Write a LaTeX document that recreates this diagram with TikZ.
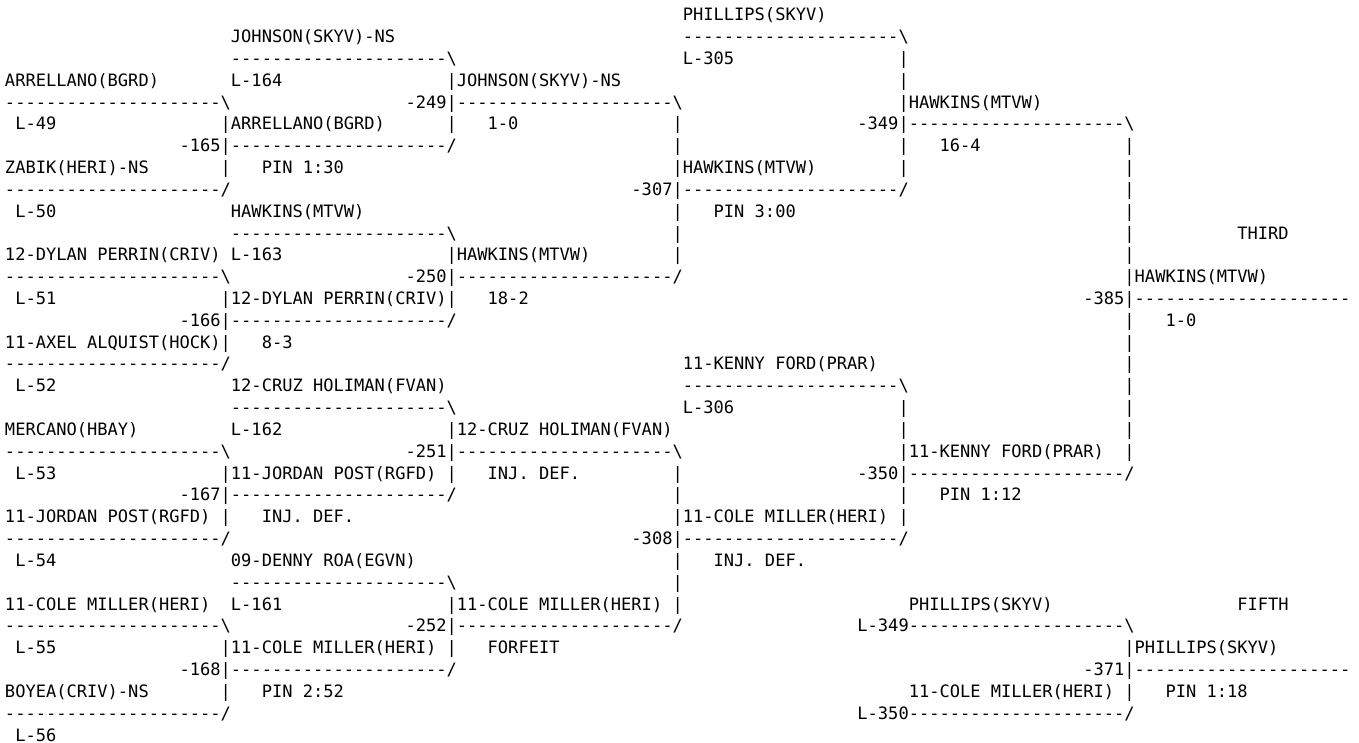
\documentclass[tikz,border=0pt]{standalone}
\usepackage{fontspec}
\setmonofont{DejaVu Sans Mono}
\newcommand\dd{---------------------}
\newcommand\bsl{\textbackslash}
\tikzset{txt/.style={anchor=base west, inner sep=0pt, outer sep=0pt,
  font=\ttfamily\fontsize{17.06}{21.83}\selectfont\frenchspacing, text=black}}
\newcommand\putseg[4]{\node[txt] (#1) at ({5+10.27*#3},{-(20.7+21.83*#2)}) {#4};}
\begin{document}
\begin{tikzpicture}[x=1pt,y=1pt]
\useasboundingbox[fill=white] (0,0) rectangle (1359,-742);
% row 0
\putseg{r0a}{0}{66}{PHILLIPS(SKYV)}
% row 1
\putseg{r1a}{1}{22}{JOHNSON(SKYV)-NS}
\putseg{r1b}{1}{66}{\dd\bsl}
% row 2
\putseg{r2a}{2}{22}{\dd\bsl}
\putseg{r2b}{2}{66}{L-305}
\putseg{r2c}{2}{87}{|}
% row 3
\putseg{r3a}{3}{0}{ARRELLANO(BGRD)}
\putseg{r3b}{3}{22}{L-164}
\putseg{r3c}{3}{43}{|JOHNSON(SKYV)-NS}
\putseg{r3d}{3}{87}{|}
% row 4
\putseg{r4a}{4}{0}{\dd\bsl}
\putseg{r4b}{4}{39}{-249|\dd\bsl}
\putseg{r4c}{4}{87}{|HAWKINS(MTVW)}
% row 5
\putseg{r5a}{5}{1}{L-49}
\putseg{r5b}{5}{21}{|ARRELLANO(BGRD)}
\putseg{r5c}{5}{43}{|}
\putseg{r5d}{5}{47}{1-0}
\putseg{r5e}{5}{65}{|}
\putseg{r5f}{5}{83}{-349|\dd\bsl}
% row 6
\putseg{r6a}{6}{17}{-165|\dd/}
\putseg{r6b}{6}{65}{|}
\putseg{r6c}{6}{87}{|}
\putseg{r6d}{6}{91}{16-4}
\putseg{r6e}{6}{109}{|}
% row 7
\putseg{r7a}{7}{0}{ZABIK(HERI)-NS}
\putseg{r7b}{7}{21}{|}
\putseg{r7c}{7}{25}{PIN 1:30}
\putseg{r7d}{7}{65}{|HAWKINS(MTVW)}
\putseg{r7e}{7}{87}{|}
\putseg{r7f}{7}{109}{|}
% row 8
\putseg{r8a}{8}{0}{\dd/}
\putseg{r8b}{8}{61}{-307|\dd/}
\putseg{r8c}{8}{109}{|}
% row 9
\putseg{r9a}{9}{1}{L-50}
\putseg{r9b}{9}{22}{HAWKINS(MTVW)}
\putseg{r9c}{9}{65}{|}
\putseg{r9d}{9}{69}{PIN 3:00}
\putseg{r9e}{9}{109}{|}
% row 10
\putseg{r10a}{10}{22}{\dd\bsl}
\putseg{r10b}{10}{65}{|}
\putseg{r10c}{10}{109}{|}
\putseg{r10d}{10}{120}{THIRD}
% row 11
\putseg{r11a}{11}{0}{12-DYLAN PERRIN(CRIV)}
\putseg{r11b}{11}{22}{L-163}
\putseg{r11c}{11}{43}{|HAWKINS(MTVW)}
\putseg{r11d}{11}{65}{|}
\putseg{r11e}{11}{109}{|}
% row 12
\putseg{r12a}{12}{0}{\dd\bsl}
\putseg{r12b}{12}{39}{-250|\dd/}
\putseg{r12c}{12}{109}{|HAWKINS(MTVW)}
% row 13
\putseg{r13a}{13}{1}{L-51}
\putseg{r13b}{13}{21}{|12-DYLAN PERRIN(CRIV)|}
\putseg{r13c}{13}{47}{18-2}
\putseg{r13d}{13}{105}{-385|\dd}
% row 14
\putseg{r14a}{14}{17}{-166|\dd/}
\putseg{r14b}{14}{109}{|}
\putseg{r14c}{14}{113}{1-0}
% row 15
\putseg{r15a}{15}{0}{11-AXEL ALQUIST(HOCK)|}
\putseg{r15b}{15}{25}{8-3}
\putseg{r15c}{15}{109}{|}
% row 16
\putseg{r16a}{16}{0}{\dd/}
\putseg{r16b}{16}{66}{11-KENNY FORD(PRAR)}
\putseg{r16c}{16}{109}{|}
% row 17
\putseg{r17a}{17}{1}{L-52}
\putseg{r17b}{17}{22}{12-CRUZ HOLIMAN(FVAN)}
\putseg{r17c}{17}{66}{\dd\bsl}
\putseg{r17d}{17}{109}{|}
% row 18
\putseg{r18a}{18}{22}{\dd\bsl}
\putseg{r18b}{18}{66}{L-306}
\putseg{r18c}{18}{87}{|}
\putseg{r18d}{18}{109}{|}
% row 19
\putseg{r19a}{19}{0}{MERCANO(HBAY)}
\putseg{r19b}{19}{22}{L-162}
\putseg{r19c}{19}{43}{|12-CRUZ HOLIMAN(FVAN)}
\putseg{r19d}{19}{87}{|}
\putseg{r19e}{19}{109}{|}
% row 20
\putseg{r20a}{20}{0}{\dd\bsl}
\putseg{r20b}{20}{39}{-251|\dd\bsl}
\putseg{r20c}{20}{87}{|11-KENNY FORD(PRAR)}
\putseg{r20d}{20}{109}{|}
% row 21
\putseg{r21a}{21}{1}{L-53}
\putseg{r21b}{21}{21}{|11-JORDAN POST(RGFD)}
\putseg{r21c}{21}{43}{|}
\putseg{r21d}{21}{47}{INJ. DEF.}
\putseg{r21e}{21}{65}{|}
\putseg{r21f}{21}{83}{-350|\dd/}
% row 22
\putseg{r22a}{22}{17}{-167|\dd/}
\putseg{r22b}{22}{65}{|}
\putseg{r22c}{22}{87}{|}
\putseg{r22d}{22}{91}{PIN 1:12}
% row 23
\putseg{r23a}{23}{0}{11-JORDAN POST(RGFD)}
\putseg{r23b}{23}{21}{|}
\putseg{r23c}{23}{25}{INJ. DEF.}
\putseg{r23d}{23}{65}{|11-COLE MILLER(HERI)}
\putseg{r23e}{23}{87}{|}
% row 24
\putseg{r24a}{24}{0}{\dd/}
\putseg{r24b}{24}{61}{-308|\dd/}
% row 25
\putseg{r25a}{25}{1}{L-54}
\putseg{r25b}{25}{22}{09-DENNY ROA(EGVN)}
\putseg{r25c}{25}{65}{|}
\putseg{r25d}{25}{69}{INJ. DEF.}
% row 26
\putseg{r26a}{26}{22}{\dd\bsl}
\putseg{r26b}{26}{65}{|}
% row 27
\putseg{r27a}{27}{0}{11-COLE MILLER(HERI)}
\putseg{r27b}{27}{22}{L-161}
\putseg{r27c}{27}{43}{|11-COLE MILLER(HERI)}
\putseg{r27d}{27}{65}{|}
\putseg{r27e}{27}{88}{PHILLIPS(SKYV)}
\putseg{r27f}{27}{120}{FIFTH}
% row 28
\putseg{r28a}{28}{0}{\dd\bsl}
\putseg{r28b}{28}{39}{-252|\dd/}
\putseg{r28c}{28}{83}{L-349\dd\bsl}
% row 29
\putseg{r29a}{29}{1}{L-55}
\putseg{r29b}{29}{21}{|11-COLE MILLER(HERI)}
\putseg{r29c}{29}{43}{|}
\putseg{r29d}{29}{47}{FORFEIT}
\putseg{r29e}{29}{109}{|PHILLIPS(SKYV)}
% row 30
\putseg{r30a}{30}{17}{-168|\dd/}
\putseg{r30b}{30}{105}{-371|\dd}
% row 31
\putseg{r31a}{31}{0}{BOYEA(CRIV)-NS}
\putseg{r31b}{31}{21}{|}
\putseg{r31c}{31}{25}{PIN 2:52}
\putseg{r31d}{31}{88}{11-COLE MILLER(HERI)}
\putseg{r31e}{31}{109}{|}
\putseg{r31f}{31}{113}{PIN 1:18}
% row 32
\putseg{r32a}{32}{0}{\dd/}
\putseg{r32b}{32}{83}{L-350\dd/}
% row 33
\putseg{r33a}{33}{1}{L-56}
\end{tikzpicture}
\end{document}
